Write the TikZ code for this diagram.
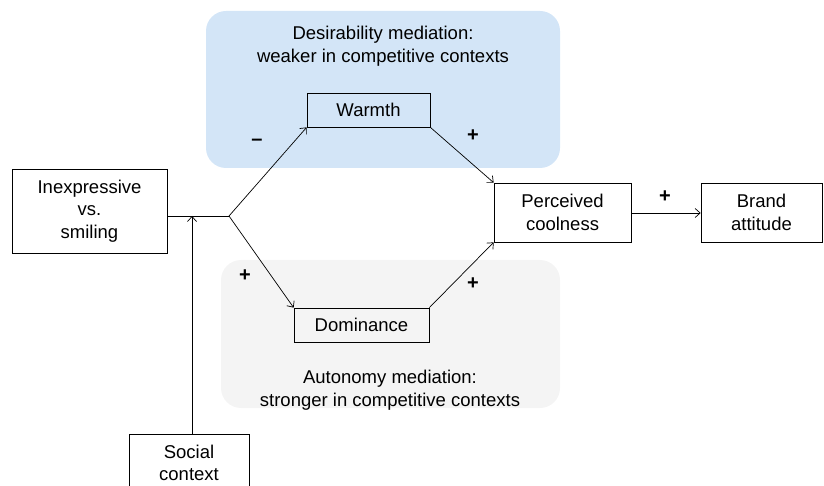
\documentclass[tikz,border=0pt]{standalone}
\usepackage{fontspec}
\setmainfont{Liberation Sans}
\usetikzlibrary{arrows.meta}
\definecolor{bluebg}{HTML}{D3E5F7}
\definecolor{graybg}{HTML}{F4F4F4}
\begin{document}
\begin{tikzpicture}[x=1pt,y=-1pt,
  txt/.style={font=\fontsize{18.5}{22.5}\selectfont, align=center},
  vbox/.style={draw, line width=0.7pt, txt, inner sep=0pt},
  conn/.style={line width=0.7pt, -{Straight Barb[length=5pt,width=9pt]}},
  sign/.style={font=\fontsize{20}{20}\selectfont\bfseries}]
\useasboundingbox (0,0) rectangle (824,486);
\clip (0,0) rectangle (824,486);
\fill[bluebg, rounded corners=20pt] (206,11) rectangle (560,168);
\fill[graybg, rounded corners=20pt] (221,260) rectangle (560,408);
\node[txt] (dtitle) at (383,46) {Desirability mediation:\\weaker in competitive contexts};
\node[txt] (atitle) at (390,390) {Autonomy mediation:\\stronger in competitive contexts};
\node[vbox, minimum width=155pt, minimum height=84pt] (ie) at (89.5,211) {Inexpressive\\vs.\\smiling};
\node[vbox, minimum width=123pt, minimum height=34pt] (warm) at (368.5,110) {Warmth};
\node[vbox, minimum width=135pt, minimum height=34pt] (dom) at (361.5,325) {Dominance};
\node[vbox, minimum width=137pt, minimum height=59pt] (pc) at (562.5,212.5) {Perceived\\coolness};
\node[vbox, minimum width=121pt, minimum height=59pt] (ba) at (761.5,212.5) {Brand\\attitude};
\node[draw, line width=0.7pt, minimum width=120pt, minimum height=80pt, inner sep=0pt, anchor=north] (sc) at (189,434) {};
\node[txt] (sctext) at (189,463) {Social\\context};
\coordinate (j) at (229,216);
\coordinate (m) at (192,216);
\draw[line width=0.7pt] (ie.east |- j) -- (j);
\draw[conn] (j) -- (warm.south west);
\draw[conn] (j) -- (dom.north west);
\draw[conn] (warm.south east) -- (pc.north west);
\draw[conn] (dom.north east) -- (pc.south west);
\draw[conn] (pc.east |- 0,213) -- (ba.west |- 0,213);
\draw[conn] (sc.north -| m) -- (m);
\node[sign] (s1) at (257,142) {--};
\node[sign] (s2) at (473,136) {+};
\node[sign] (s3) at (245,276) {+};
\node[sign] (s4) at (473,284) {+};
\node[sign] (s5) at (665,197) {+};
\end{tikzpicture}
\end{document}
